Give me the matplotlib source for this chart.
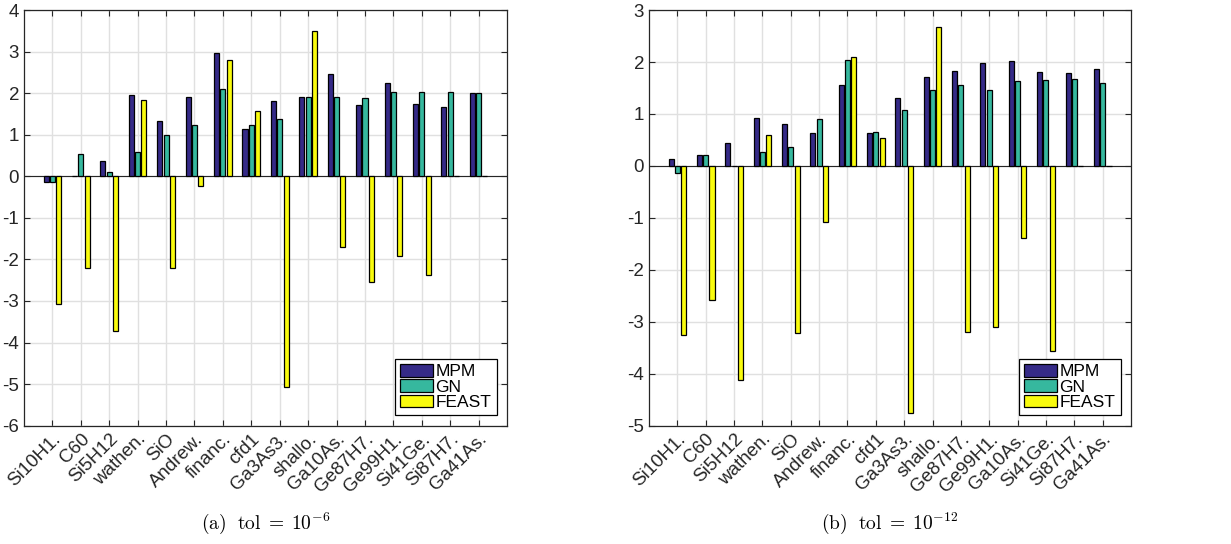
import numpy as np
import matplotlib.pyplot as plt

plt.rcParams['font.family'] = ['Liberation Sans', 'DejaVu Sans']
plt.rcParams['mathtext.fontset'] = 'cm'
plt.rcParams['axes.unicode_minus'] = False

# data: panel (a), tol = 1e-6
labels_a = ['Si10H1.', 'C60', 'Si5H12', 'wathen.', 'SiO', 'Andrew.', 'financ.', 'cfd1',
            'Ga3As3.', 'shallo.', 'Ga10As.', 'Ge87H7.', 'Ge99H1.', 'Si41Ge.', 'Si87H7.', 'Ga41As.']
mpm_a = [-0.14, 0.0, 0.37, 1.96, 1.34, 1.91, 2.96, 1.13, 1.81, 1.91, 2.45, 1.72, 2.24, 1.75, 1.67, 2.00]
gn_a = [-0.14, 0.53, 0.10, 0.58, 1.00, 1.24, 2.10, 1.24, 1.38, 1.91, 1.92, 1.89, 2.03, 2.04, 2.02, 2.00]
feast_a = [-3.08, -2.20, -3.72, 1.83, -2.20, -0.23, 2.81, 1.58, -5.07, 3.49, -1.71, -2.54, -1.91, -2.37, 0.0, 0.0]

# data: panel (b), tol = 1e-12
labels_b = ['Si10H1.', 'C60', 'Si5H12', 'wathen.', 'SiO', 'Andrew.', 'financ.', 'cfd1',
            'Ga3As3.', 'shallo.', 'Ge87H7.', 'Ge99H1.', 'Ga10As.', 'Si41Ge.', 'Si87H7.', 'Ga41As.']
mpm_b = [0.14, 0.21, 0.45, 0.93, 0.81, 0.64, 1.55, 0.64, 1.31, 1.72, 1.82, 1.99, 2.02, 1.80, 1.79, 1.86]
gn_b = [-0.13, 0.21, 0.0, 0.26, 0.37, 0.90, 2.04, 0.66, 1.08, 1.46, 1.55, 1.46, 1.63, 1.65, 1.67, 1.59]
feast_b = [-3.25, -2.58, -4.12, 0.59, -3.21, -1.08, 2.09, 0.54, -4.76, 2.68, -3.20, -3.11, -1.38, -3.57, 0.0, 0.0]

colors = ['#352A87', '#36B89E', '#F9FB0E']
names = ['MPM', 'GN', 'FEAST']


def draw(ax, labels, series, ylim, caption):
    x = np.arange(1, len(labels) + 1)
    step = 0.222
    for k, (vals, c, n) in enumerate(zip(series, colors, names)):
        ax.bar(x + (k - 1) * step, vals, width=0.178, color=c, edgecolor='black',
               linewidth=0.9, label=n, zorder=3)
    ax.set_xlim(0, len(labels) + 1)
    ax.set_ylim(*ylim)
    ax.set_xticks(x)
    ax.set_xticklabels(labels, rotation=45, ha='right', rotation_mode='anchor', fontsize=13.5)
    ax.set_yticks(np.arange(ylim[0], ylim[1] + 1))
    ax.tick_params(axis='y', labelsize=13.5)
    ax.tick_params(direction='in', top=True, right=True, length=4, color='#262626',
                   labelcolor='#262626')
    ax.grid(True, color='#e0e0e0', linewidth=1, zorder=0)
    ax.set_axisbelow(True)
    ax.axhline(0, color='#262626', linewidth=0.8, zorder=2)
    for s in ax.spines.values():
        s.set_color('#262626')
        s.set_linewidth(0.9)
    leg = ax.legend(loc='lower right', fontsize=12.5, frameon=True, fancybox=False,
                    edgecolor='black', framealpha=1, handlelength=1.9, handleheight=0.75,
                    handletextpad=0.15, labelspacing=0.0, borderpad=0.3,
                    borderaxespad=0.6)
    leg.get_frame().set_linewidth(0.9)
    ax.text(0.5, -0.205, caption, transform=ax.transAxes, ha='center', va='top', fontsize=14)


fig = plt.figure(figsize=(12.31, 5.44), dpi=100)
ax1 = fig.add_axes([0.0195, 0.2175, 0.3924, 0.764])
ax2 = fig.add_axes([0.5272, 0.2175, 0.3916, 0.764])

draw(ax1, labels_a, [mpm_a, gn_a, feast_a], (-6, 4), r'$\mathrm{(a)\ \ tol}\;=\;10^{-6}$')
draw(ax2, labels_b, [mpm_b, gn_b, feast_b], (-5, 3), r'$\mathrm{(b)\ \ tol}\;=\;10^{-12}$')

fig.savefig('out.png', dpi=100)
